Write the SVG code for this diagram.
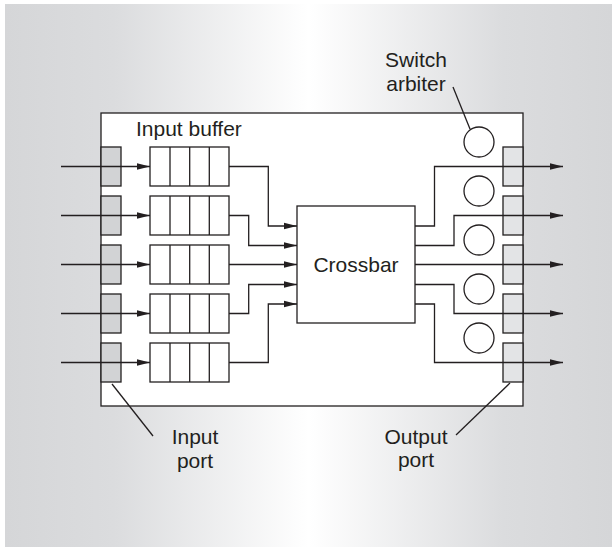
<svg xmlns="http://www.w3.org/2000/svg" width="612" height="547" viewBox="0 0 612 547">
<defs>
<linearGradient id="bg" x1="0" y1="0" x2="1" y2="0">
<stop offset="0" stop-color="#d5d6d8"/>
<stop offset="0.18" stop-color="#dbdcde"/>
<stop offset="0.5" stop-color="#ffffff"/>
<stop offset="0.82" stop-color="#dbdcde"/>
<stop offset="1" stop-color="#d5d6d8"/>
</linearGradient>
<marker id="ah" markerWidth="13" markerHeight="8" refX="13" refY="4" orient="auto" markerUnits="userSpaceOnUse">
<path d="M0,0.8 L13,4 L0,7.2 Z" fill="#231f20"/>
</marker>
</defs>
<style>
.ln{fill:none;stroke:#231f20;stroke-width:1.3}
.ar{fill:none;stroke:#231f20;stroke-width:1.3;marker-end:url(#ah)}
.box{fill:#ffffff;stroke:#231f20;stroke-width:1.3}
.inp{fill:#d2d3d5;stroke:#231f20;stroke-width:1.3}
.outp{fill:#e3e4e6;stroke:#231f20;stroke-width:1.3}
.t{font-family:"Liberation Sans",Arial,sans-serif;font-size:21px;fill:#231f20}
</style>
<rect x="5" y="4" width="607" height="543" fill="url(#bg)"/>
<g id="router">
<rect class="box" x="101" y="113" width="422" height="293"/>
</g>
<g id="input-ports">
<rect class="inp" x="101" y="147" width="20" height="39"/>
<rect class="inp" x="101" y="196" width="20" height="39"/>
<rect class="inp" x="101" y="245" width="20" height="39"/>
<rect class="inp" x="101" y="294" width="20" height="39"/>
<rect class="inp" x="101" y="343" width="20" height="39"/>
</g>
<g id="output-ports">
<rect class="outp" x="503" y="147" width="20" height="39"/>
<rect class="outp" x="503" y="196" width="20" height="39"/>
<rect class="outp" x="503" y="245" width="20" height="39"/>
<rect class="outp" x="503" y="294" width="20" height="39"/>
<rect class="outp" x="503" y="343" width="20" height="39"/>
</g>
<g id="input-buffers">
<g id="buffer1"><rect class="box" x="150" y="147" width="79" height="39"/><path class="ln" d="M170,147V186M189.7,147V186M209.3,147V186"/></g>
<g id="buffer2"><rect class="box" x="150" y="196" width="79" height="39"/><path class="ln" d="M170,196V235M189.7,196V235M209.3,196V235"/></g>
<g id="buffer3"><rect class="box" x="150" y="245" width="79" height="39"/><path class="ln" d="M170,245V284M189.7,245V284M209.3,245V284"/></g>
<g id="buffer4"><rect class="box" x="150" y="294" width="79" height="39"/><path class="ln" d="M170,294V333M189.7,294V333M209.3,294V333"/></g>
<g id="buffer5"><rect class="box" x="150" y="343" width="79" height="39"/><path class="ln" d="M170,343V382M189.7,343V382M209.3,343V382"/></g>
</g>
<g id="crossbar">
<rect class="box" x="297" y="206" width="118" height="117"/>
<text class="t" x="356" y="272" text-anchor="middle">Crossbar</text>
</g>
<g id="arbiters">
<circle class="box" cx="479" cy="142" r="15"/>
<circle class="box" cx="479" cy="191" r="15"/>
<circle class="box" cx="479" cy="240" r="15"/>
<circle class="box" cx="479" cy="289" r="15"/>
<circle class="box" cx="479" cy="338" r="15"/>
</g>
<g id="connectors">
<path class="ar" d="M61,166.5H150"/>
<path class="ar" d="M61,215.5H150"/>
<path class="ar" d="M61,264.5H150"/>
<path class="ar" d="M61,313.5H150"/>
<path class="ar" d="M61,362.5H150"/>
<path class="ar" d="M229,166.5H268.3V226H297"/>
<path class="ar" d="M229,215.5H248.7V245.5H297"/>
<path class="ar" d="M229,264.5H297"/>
<path class="ar" d="M229,313.5H248.7V284.5H297"/>
<path class="ar" d="M229,362.5H268.3V304H297"/>
<path class="ar" d="M415,226H434.5V166.5H563"/>
<path class="ar" d="M415,245.5H454V215.5H563"/>
<path class="ar" d="M415,264.5H563"/>
<path class="ar" d="M415,284.5H454V313.5H563"/>
<path class="ar" d="M415,304H434.5V362.5H563"/>
<path class="ln" d="M453,87L470,129"/>
<path class="ln" d="M112,384L153,436"/>
<path class="ln" d="M510,383L456,435"/>
</g>
<g id="labels">
<text class="t" x="136" y="136">Input buffer</text>
<text class="t" x="416" y="67" text-anchor="middle">Switch</text>
<text class="t" x="416" y="90.5" text-anchor="middle">arbiter</text>
<text class="t" x="195" y="444" text-anchor="middle">Input</text>
<text class="t" x="195" y="467.5" text-anchor="middle">port</text>
<text class="t" x="416" y="443.5" text-anchor="middle">Output</text>
<text class="t" x="416" y="467" text-anchor="middle">port</text>
</g>
</svg>
